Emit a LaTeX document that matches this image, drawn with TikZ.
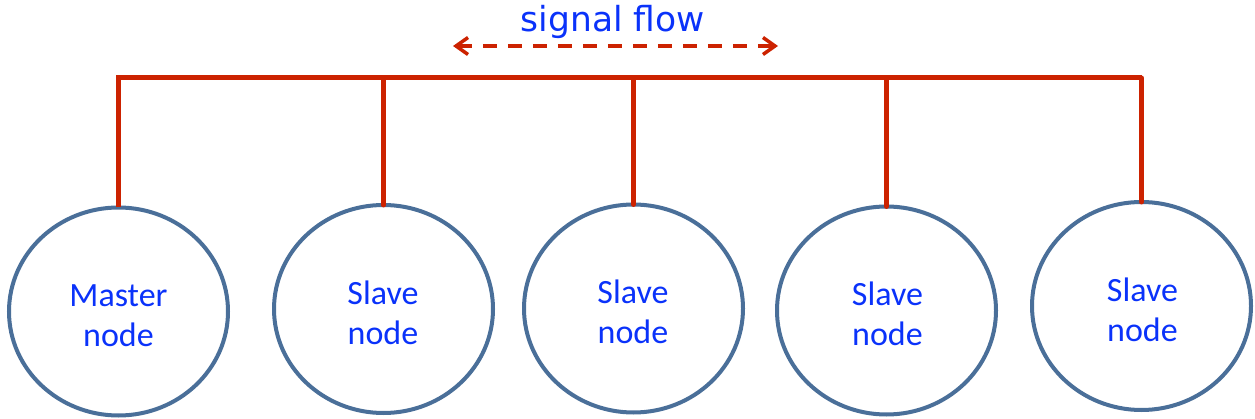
\documentclass[tikz,border=0pt]{standalone}
\usepackage{fontspec}
\usetikzlibrary{shapes.geometric,arrows.meta}
\newfontfamily\labelfont{Carlito}
\newfontfamily\flowfont{DejaVu Sans}
\definecolor{busred}{HTML}{CC2200}
\definecolor{ringblue}{HTML}{4A6F99}
\definecolor{textblue}{HTML}{0A32FA}
\tikzset{
  station/.style={ellipse, draw=ringblue, line width=4pt, inner sep=0pt, outer sep=0pt,
    minimum width=219pt, minimum height=208pt},
  stationtext/.style={text=textblue, align=center, inner sep=0pt,
    font=\labelfont\fontsize{34}{40}\selectfont},
  bus/.style={draw=busred, line width=5pt},
  drop/.style={draw=busred, line width=5pt, line cap=round},
  flow/.style={draw=busred, line width=3.5pt, dash pattern=on 14pt off 11pt,
    {Straight Barb[length=12pt,width=17pt]}-{Straight Barb[length=12pt,width=17pt]}}
}
\begin{document}
\begin{tikzpicture}[x=1pt,y=-1pt]
  \useasboundingbox (0,0) rectangle (1255,419);

  % stations on the bus
  \node[station] (m)  at (118.5,311.5) {};
  \node[station] (s2) at (383.5,309)   {};
  \node[station] (s3) at (633.5,308.5) {};
  \node[station] (s4) at (886.5,310.5) {};
  \node[station] (s5) at (1141.5,306)  {};

  \node[stationtext] (mt)  at (118.5,316) {Master\\node};
  \node[stationtext] (s2t) at (383,312.5) {Slave\\node};
  \node[stationtext] (s3t) at (633,312)   {Slave\\node};
  \node[stationtext] (s4t) at (887.5,313.5) {Slave\\node};
  \node[stationtext] (s5t) at (1142.5,309.5) {Slave\\node};

  % shared bus line
  \coordinate (busy) at (0,78);
  \draw[bus, line join=miter] (m.north) |- (s5.north |- busy);
  \draw[drop] (s2.north) -- (s2.north |- busy);
  \draw[drop] (s3.north) -- (s3.north |- busy);
  \draw[drop] (s4.north) -- (s4.north |- busy);
  \draw[drop] (s5.north) -- (s5.north |- busy);

  % direction of the signal
  \node[text=textblue, font=\flowfont\fontsize{34.5}{40}\selectfont, anchor=base, inner sep=0pt]
    (sig) at (613,32) {signal flow};
  \coordinate (fl) at (453,46);
  \coordinate (fr) at (778,46);
  \draw[flow] (fl) -- (fr);
\end{tikzpicture}
\end{document}
